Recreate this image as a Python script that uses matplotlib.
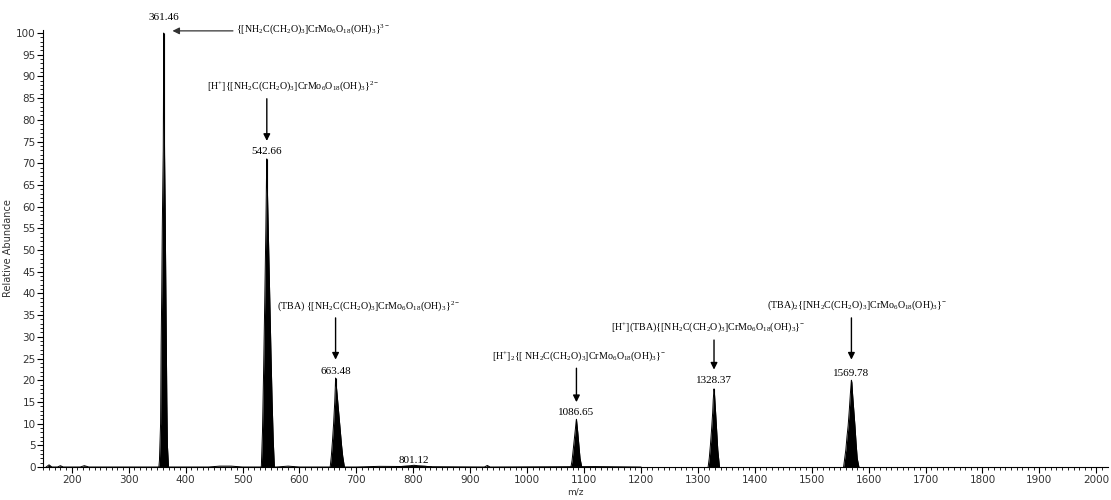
import matplotlib
matplotlib.use("Agg")
import matplotlib.pyplot as plt

plt.rcParams["mathtext.fontset"] = "custom"
plt.rcParams["mathtext.rm"] = "Liberation Serif"
plt.rcParams["mathtext.it"] = "Liberation Serif:italic"
plt.rcParams["mathtext.bf"] = "Liberation Serif:bold"

# peak clusters (m/z, relative abundance)
mz_361 = [353, 354, 356, 357, 358, 359, 360, 360.7, 361, 361.46, 362, 362.5, 363, 364, 365, 366, 367, 368, 370]
ab_361 = [0, 1.5, 10, 28, 40, 55, 66, 73, 82, 100, 97, 85, 72, 60, 45, 30, 15, 5, 0]

mz_542 = [533, 535, 537, 539, 541, 542, 542.66, 543, 544, 546, 548, 550, 552, 554, 556]
ab_542 = [0, 8, 22, 38, 55, 66, 71, 68, 62, 50, 38, 26, 15, 6, 0]

mz_663 = [654, 656, 658, 660, 662, 663, 663.48, 664, 666, 668, 670, 672, 674, 676, 679]
ab_663 = [0, 2.5, 6, 10, 15, 18.5, 20.5, 19.8, 17, 14, 11, 8, 5, 2.5, 0]

mz_801 = [770, 785, 795, 801.12, 808, 820, 832]
ab_801 = [0, 0.2, 0.3, 0.4, 0.3, 0.2, 0]

mz_1086 = [1077, 1079, 1081, 1083, 1085, 1086, 1086.65, 1087, 1089, 1091, 1093, 1096]
ab_1086 = [0, 1.5, 4, 6.5, 9, 10.3, 11, 10.6, 8, 5, 2, 0]

mz_1328 = [1318, 1320, 1322, 1324, 1326, 1327, 1328.37, 1329, 1331, 1333, 1335, 1338]
ab_1328 = [0, 2, 5, 8.5, 12.5, 15.5, 18, 17.3, 13, 8.5, 4, 0]

mz_1569 = [1556, 1558, 1560, 1562, 1564, 1566, 1568, 1569.78, 1570.5, 1572, 1574, 1576, 1578, 1580, 1583]
ab_1569 = [0, 2, 4, 7, 9.5, 13, 17, 20, 19.5, 16.5, 13, 9.5, 5.5, 2, 0]

# low level baseline noise
mz_noise = [155, 160, 165, 175, 180, 185, 215, 222, 230, 440, 460, 480, 500, 560, 580, 600, 700, 740, 925, 930, 935, 1120, 1200]
ab_noise = [0, 0.5, 0, 0, 0.3, 0, 0, 0.3, 0, 0, 0.2, 0.2, 0, 0, 0.2, 0, 0, 0.15, 0, 0.35, 0, 0.1, 0]

clusters = [(mz_361, ab_361), (mz_542, ab_542), (mz_663, ab_663), (mz_801, ab_801),
            (mz_1086, ab_1086), (mz_1328, ab_1328), (mz_1569, ab_1569), (mz_noise, ab_noise)]

# peak labels
peak_mz = [361.46, 542.66, 663.48, 801.12, 1086.65, 1328.37, 1569.78]
peak_ab = [100, 71, 20.5, 0.4, 11, 18, 20]
peak_txt = ["361.46", "542.66", "663.48", "801.12", "1086.65", "1328.37", "1569.78"]
peak_txt_y = [103.6, 72.6, 22.0, 1.6, 12.6, 20.0, 21.6]

core = r"\{[\mathrm{NH_2C(CH_2O)_3]CrMo_6O_{18}(OH)_3}\}"
species = [
    r"$" + core + r"^{3-}$",
    r"$[\mathrm{H}^{+}]" + core + r"^{2-}$",
    r"$\mathrm{(TBA)}\ " + core + r"^{2-}$",
    r"$[\mathrm{H}^{+}]_2\{[\ \mathrm{NH_2C(CH_2O)_3]CrMo_6O_{18}(OH)_3}\}^{-}$",
    r"$[\mathrm{H}^{+}]\mathrm{(TBA)}" + core + r"^{-}$",
    r"$\mathrm{(TBA)}_2" + core + r"^{-}$",
]
species_x = [488, 438, 561, 939, 1147, 1421]
species_y = [100.9, 87.8, 37.0, 25.5, 32.2, 37.2]
arrow_x = [542.66, 663.48, 1086.65, 1328.37, 1569.78]
arrow_from = [85.5, 35.0, 23.4, 29.9, 35.0]
arrow_to = [74.5, 24.1, 14.3, 21.8, 24.1]

fig = plt.figure(figsize=(11.11, 5), dpi=100)
ax = fig.add_axes([0.039, 0.066, 0.958, 0.874])

for mz, ab in clusters:
    ax.fill_between(mz, 0, ab, color="black", linewidth=0)
    ax.plot(mz, ab, color="black", linewidth=0.7)
ax.vlines(peak_mz, 0, peak_ab, color="black", linewidth=0.8)

ax.set_xlim(150, 2020)
ax.set_ylim(0, 100.7)
ax.set_xticks(range(200, 2001, 100))
ax.set_xticks(range(150, 2020, 10), minor=True)
ax.set_yticks(range(0, 101, 5))
ax.set_yticks(range(0, 101, 1), minor=True)
ax.tick_params(which="major", length=4, width=0.8, labelsize=7.5, labelcolor="#333333", pad=1.5)
ax.tick_params(which="minor", length=2, width=0.6)
for s in ["top", "right"]:
    ax.spines[s].set_visible(False)
ax.set_xlabel("m/z", fontsize=6.5, color="#333333", labelpad=2)
ax.set_ylabel("Relative Abundance", fontsize=7, color="#333333", labelpad=2)

serif = ["Liberation Serif", "DejaVu Serif"]
for x, t, y in zip(peak_mz, peak_txt, peak_txt_y):
    ax.text(x, y, t, ha="center", va="center", fontsize=8, family=serif, clip_on=False)

for t, x, y in zip(species, species_x, species_y):
    ax.text(x, y, t, ha="left", va="center", fontsize=7.2, clip_on=False)

ax.annotate("", xy=(372, 100.5), xytext=(488, 100.5),
            arrowprops=dict(arrowstyle="-|>", color="#333333", lw=0.9, mutation_scale=10),
            annotation_clip=False)
for x, y0, y1 in zip(arrow_x, arrow_from, arrow_to):
    ax.annotate("", xy=(x, y1), xytext=(x, y0),
                arrowprops=dict(arrowstyle="-|>", color="black", lw=1.0, mutation_scale=10))

fig.savefig("out.png", dpi=100)
